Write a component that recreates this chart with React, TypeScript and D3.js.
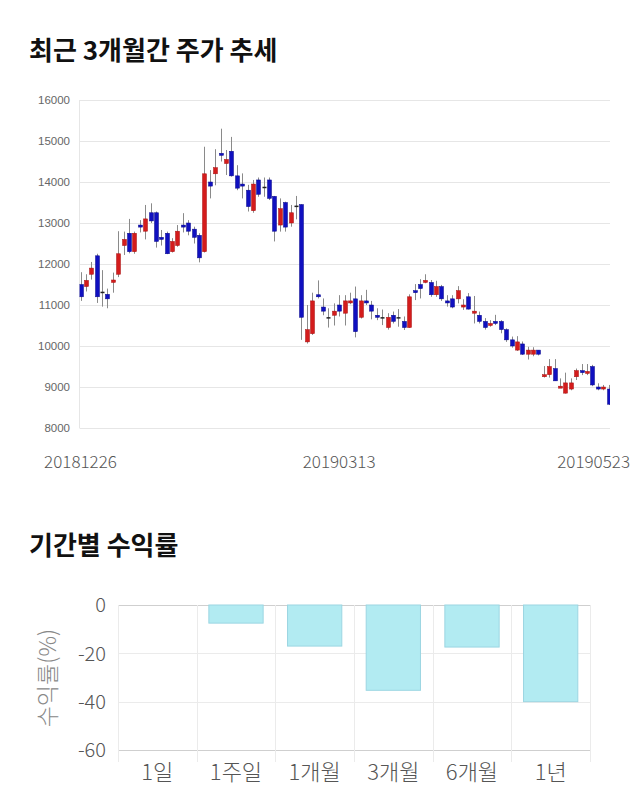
import React from 'react';
import * as d3 from 'd3';

// ---- Candlestick data (daily, 20181226 .. 20190523) ----
const opens = [11500,11450,11750,12200,11300,11260,11550,11750,12450,12750,12300,12950,12800,13250,13250,12650,12750,12300,12450,12950,13000,12850,12700,12300,14000,14200,14700,14450,14750,14150,13950,13800,13300,14050,13860,14050,13650,12950,13500,13000,13400,13450,10100,10300,11250,10950,10680,10750,11000,10800,11050,11150,10700,11100,11000,10750,10680,10450,10750,10680,10600,10450,11350,11500,11550,11550,11250,11450,11100,11150,11150,10950,11200,10800,10750,10600,10500,10600,10600,10400,10150,9900,10050,9800,9800,9900,9250,9300,9450,9000,8850,8950,9250,9400,9330,9500,9000,8950,8950];
const highs = [11800,11750,12050,12250,11850,11400,11790,12800,12790,13100,12790,13070,13440,13480,13280,12830,12790,12630,12950,13240,13070,12910,12750,14860,14290,14800,15300,14780,15100,14410,14210,13930,14050,14110,14110,14110,13660,13600,13520,13440,13660,13460,11000,11300,11600,11160,10920,11040,11240,11240,11300,11450,11240,11370,11100,10920,10890,10800,10840,10900,10720,11260,11510,11630,11750,11610,11590,11490,11240,11240,11460,11140,11290,11220,10840,10680,10630,10760,10630,10430,10230,10240,10110,9980,9970,9900,9510,9680,9680,9210,9350,9210,9450,9560,9560,9540,9090,9050,9050];
const lows = [11100,11330,11620,11050,10960,10920,11300,11680,12220,12260,12250,12770,12600,13000,12400,12450,12240,12280,12420,12770,12700,12500,12040,12280,13600,13920,14500,14170,14130,13800,13600,13280,13250,13640,13640,13560,12550,12790,12790,12910,13090,10150,10060,10270,11160,10750,10450,10500,10720,10500,11020,10210,10670,11000,10650,10630,10510,10400,10550,10470,10390,10440,11120,11160,11530,11200,11200,11100,10960,10920,11040,10880,10890,10550,10550,10400,10470,10510,10310,10100,9960,9880,9780,9670,9750,9770,9230,9230,9150,8990,8840,8920,9170,9290,9290,9020,8920,8920,8560];
const closes = [11200,11600,11900,11200,11300,11150,11610,12250,12600,12300,12750,12900,13100,13050,12550,12600,12250,12550,12800,12900,12800,12650,12150,14200,13900,14350,14650,14550,14150,13850,13900,13400,13950,13700,13860,13600,12800,13350,12900,13250,13400,10700,10400,11100,11200,10850,10680,10850,10850,11100,11100,10350,11100,11050,10850,10700,10680,10700,10600,10680,10450,11200,11300,11400,11600,11250,11450,11150,11050,10950,11350,11000,10900,10850,10600,10450,10550,10550,10400,10150,10000,10100,9800,9900,9900,9800,9300,9500,9150,9020,9100,9100,9400,9350,9380,9050,8950,9000,8580];
const priceTicks = [8000,9000,10000,11000,12000,13000,14000,15000,16000];
const dateTickIndex = [0, 48, 98];
const dateTickLabels = ['20181226', '20190313', '20190523'];

// ---- Period return data ----
const periods = ['1일', '1주일', '1개월', '3개월', '6개월', '1년'];
const returns = [0, -7.5, -17, -35.3, -17.4, -40];
const returnTicks = [0, -20, -40, -60];

const FONT = '"Noto Sans CJK KR", "Noto Sans", sans-serif';

export default function App() {
  const n = opens.length;
  const idx = d3.range(n);
  const x = d3.scalePoint<number>().domain(idx).range([80.5, 608.5]);
  const y = d3.scaleLinear().domain([8000, 16000]).range([428, 100]);
  const plotL = 79.5, plotR = 610;
  const bodyW = 4;

  const bx = d3.scaleBand<string>().domain(periods).range([118, 590]).padding(0);
  const by = d3.scaleLinear().domain([-60, 0]).range([750, 605]);
  const barW = bx.bandwidth() * 0.69;

  const up = '#d41c1c', upS = '#a81010';
  const dn = '#1010c0', dnS = '#08088a';

  return (
    <svg width={640} height={810} style={{ position: 'absolute', left: 0, top: 0, background: '#fff' }} fontFamily={FONT}>
      <defs>
        <clipPath id="plotclip">
          <rect x={plotL} y={95} width={plotR - plotL} height={340} />
        </clipPath>
      </defs>
      <text x={29} y={60} fontSize={26} fontWeight={700} fill="#111">최근 3개월간 주가 추세</text>

      {priceTicks.map(t => (
        <g key={t}>
          <line x1={plotL} x2={plotR} y1={Math.round(y(t)) + 0.5} y2={Math.round(y(t)) + 0.5} stroke="#e6e6e6" />
          <text x={70} y={y(t)} dy="0.35em" textAnchor="end" fontSize={11.5} fill="#666" fontFamily="Arial, Liberation Sans, sans-serif">{t}</text>
        </g>
      ))}
      <line x1={plotL} x2={plotL} y1={100} y2={428} stroke="#e6e6e6" />

      <g clipPath="url(#plotclip)">
        {idx.map(i => {
          const o = opens[i], c = closes[i], h = highs[i], l = lows[i];
          const cx = Math.round(x(i)!) + 0.5;
          const isUp = c > o, flat = c === o;
          const top = y(Math.max(o, c)), bot = y(Math.min(o, c));
          const hgt = Math.max(bot - top, 2);
          const fill = flat ? '#222' : isUp ? up : dn;
          const stroke = flat ? '#222' : isUp ? upS : dnS;
          return (
            <g key={i}>
              <line x1={cx} x2={cx} y1={y(h)} y2={y(l)} stroke="#8a8a8a" strokeWidth={1} />
              <rect x={cx - bodyW / 2} y={flat ? top - 1 : top} width={bodyW} height={flat ? 1.5 : hgt} fill={fill} stroke={flat ? 'none' : stroke} strokeWidth={0.5} />
            </g>
          );
        })}
      </g>

      {dateTickIndex.map((di, k) => {
        const last = k === dateTickIndex.length - 1;
        return (
          <text key={di} x={last ? 630 : x(di)!} y={468} textAnchor={last ? 'end' : 'middle'} fontSize={17} fontWeight={300} fill="#555">{dateTickLabels[k]}</text>
        );
      })}

      <text x={29} y={555} fontSize={26} fontWeight={700} fill="#111">기간별 수익률</text>

      {returnTicks.map(t => (
        <g key={t}>
          <line x1={118} x2={590} y1={Math.round(by(t)) + 0.5} y2={Math.round(by(t)) + 0.5} stroke={t === 0 || t === -60 ? '#cfcfcf' : '#ebebeb'} />
          <text x={106} y={by(t)} dy="0.36em" textAnchor="end" fontSize={20} fontWeight={300} fill="#555">{t}</text>
        </g>
      ))}
      {d3.range(periods.length + 1).map(k => {
        const xx = Math.round(118 + k * bx.step()) + 0.5;
        return <line key={k} x1={xx} x2={xx} y1={605} y2={762} stroke="#ebebeb" />;
      })}
      {periods.map((p, i) => {
        const v = returns[i];
        const cx = bx(p)! + bx.bandwidth() / 2;
        return (
          <g key={p}>
            {v !== 0 && (
              <rect x={cx - barW / 2} y={by(0)} width={barW} height={by(v) - by(0)} fill="#b2ebf2" stroke="#9cd6e2" strokeWidth={1} />
            )}
            <text x={cx} y={780} textAnchor="middle" fontSize={22} fontWeight={300} fill="#555">{p}</text>
          </g>
        );
      })}
      <text transform={`translate(56,678) rotate(-90)`} textAnchor="middle" fontSize={23} fontWeight={300} fill="#888">수익률(%)</text>
    </svg>
  );
}
